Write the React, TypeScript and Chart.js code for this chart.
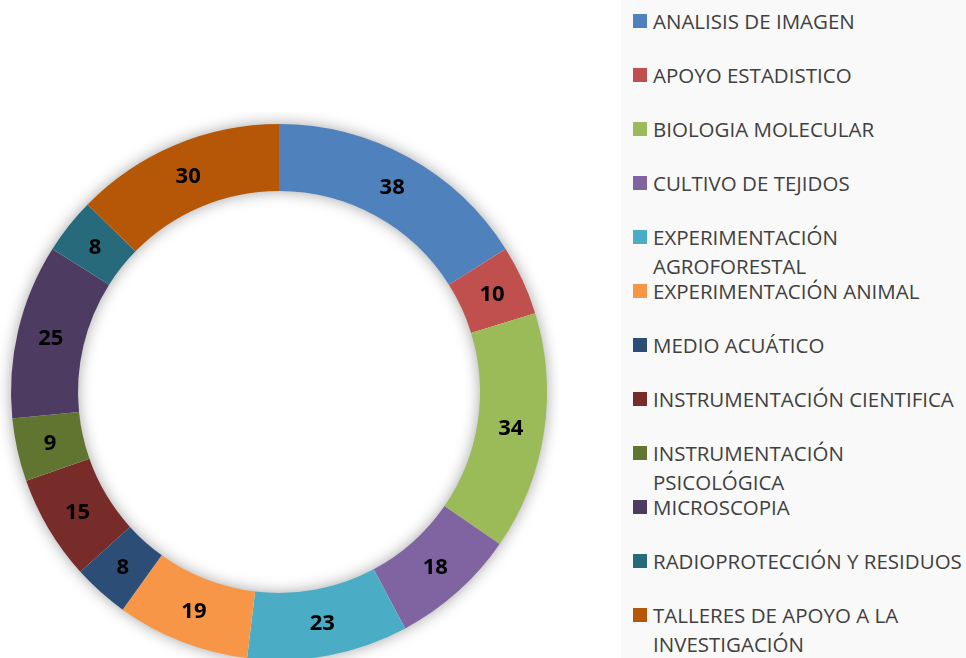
import React, { useEffect, useRef } from "react";
import { Chart, registerables } from "chart.js";

Chart.register(...registerables);

const categories = [
  "ANALISIS DE IMAGEN",
  "APOYO ESTADISTICO",
  "BIOLOGIA MOLECULAR",
  "CULTIVO DE TEJIDOS",
  "EXPERIMENTACIÓN AGROFORESTAL",
  "EXPERIMENTACIÓN ANIMAL",
  "MEDIO ACUÁTICO",
  "INSTRUMENTACIÓN CIENTIFICA",
  "INSTRUMENTACIÓN PSICOLÓGICA",
  "MICROSCOPIA",
  "RADIOPROTECCIÓN Y RESIDUOS",
  "TALLERES DE APOYO A LA INVESTIGACIÓN",
];

const values = [38, 10, 34, 18, 23, 19, 8, 15, 9, 25, 8, 30];

const colors = [
  "#4F81BD",
  "#C0504D",
  "#9BBB59",
  "#8064A2",
  "#4BACC6",
  "#F79646",
  "#2C4D75",
  "#772C2A",
  "#5F7530",
  "#4D3B62",
  "#276A7C",
  "#B65708",
];

const FONT = "'Open Sans', 'Noto Sans', sans-serif";

const shadowPlugin = {
  id: "ringShadow",
  beforeDatasetsDraw(chart: any) {
    const meta = chart.getDatasetMeta(0);
    const el = meta.data[0];
    if (!el) return;
    const { x, y, innerRadius, outerRadius } = el.getProps(
      ["x", "y", "innerRadius", "outerRadius"],
      true
    );
    const ctx = chart.ctx;
    ctx.save();
    ctx.shadowColor = "rgba(0,0,0,0.4)";
    ctx.shadowBlur = 16;
    ctx.shadowOffsetX = 0;
    ctx.shadowOffsetY = 0;
    ctx.fillStyle = "#ffffff";
    ctx.beginPath();
    ctx.arc(x, y, outerRadius - 1, 0, Math.PI * 2, false);
    ctx.arc(x, y, innerRadius + 1, 0, Math.PI * 2, true);
    ctx.closePath();
    ctx.fill();
    ctx.restore();
  },
};

const labelPlugin = {
  id: "sliceLabels",
  afterDatasetsDraw(chart: any) {
    const ctx = chart.ctx;
    const meta = chart.getDatasetMeta(0);
    const data = chart.data.datasets[0].data;
    ctx.save();
    ctx.font = `bold 22px ${FONT}`;
    ctx.fillStyle = "#000000";
    ctx.textAlign = "center";
    ctx.textBaseline = "middle";
    meta.data.forEach((el: any, i: number) => {
      const p = el.getProps(
        ["x", "y", "startAngle", "endAngle", "innerRadius", "outerRadius"],
        true
      );
      const a = (p.startAngle + p.endAngle) / 2;
      const r = (p.innerRadius + p.outerRadius) / 2;
      ctx.fillText(String(data[i]), p.x + r * Math.cos(a), p.y + r * Math.sin(a) + 1);
    });
    ctx.restore();
  },
};

export default function App() {
  const canvasRef = useRef<HTMLCanvasElement | null>(null);

  useEffect(() => {
    if (!canvasRef.current) return;
    const chart = new Chart(canvasRef.current, {
      type: "doughnut",
      data: {
        labels: categories,
        datasets: [
          {
            data: values,
            backgroundColor: colors,
            borderWidth: 0,
          },
        ],
      },
      options: {
        responsive: false,
        animation: false,
        cutout: "75%",
        layout: { padding: 12 },
        plugins: {
          legend: { display: false },
          tooltip: { enabled: false },
        },
      },
      plugins: [shadowPlugin, labelPlugin],
    });
    return () => chart.destroy();
  }, []);

  const rowStart = 21;
  const rowStep = 54;

  return (
    <div
      style={{
        position: "fixed",
        left: 0,
        top: 0,
        width: 966,
        height: 658,
        overflow: "hidden",
        background: "#ffffff",
        fontFamily: FONT,
      }}
    >
      <canvas
        ref={canvasRef}
        width={560}
        height={560}
        style={{ position: "absolute", left: -1, top: 112, width: 560, height: 560 }}
      />
      <div
        style={{
          position: "absolute",
          left: 621,
          top: 0,
          width: 345,
          height: 658,
          background: "#F9F9F9",
        }}
      />
      {categories.map((c, i) => {
        const cy = rowStart + rowStep * i;
        return (
          <div key={c}>
            <div
              style={{
                position: "absolute",
                left: 633,
                top: cy - 7,
                width: 14,
                height: 14,
                background: colors[i],
              }}
            />
            <div
              style={{
                position: "absolute",
                left: 653,
                top: cy - 14.5,
                width: 313,
                fontSize: 20.5,
                lineHeight: "29px",
                color: "#404040",
                whiteSpace: "normal",
              }}
            >
              {c}
            </div>
          </div>
        );
      })}
    </div>
  );
}
